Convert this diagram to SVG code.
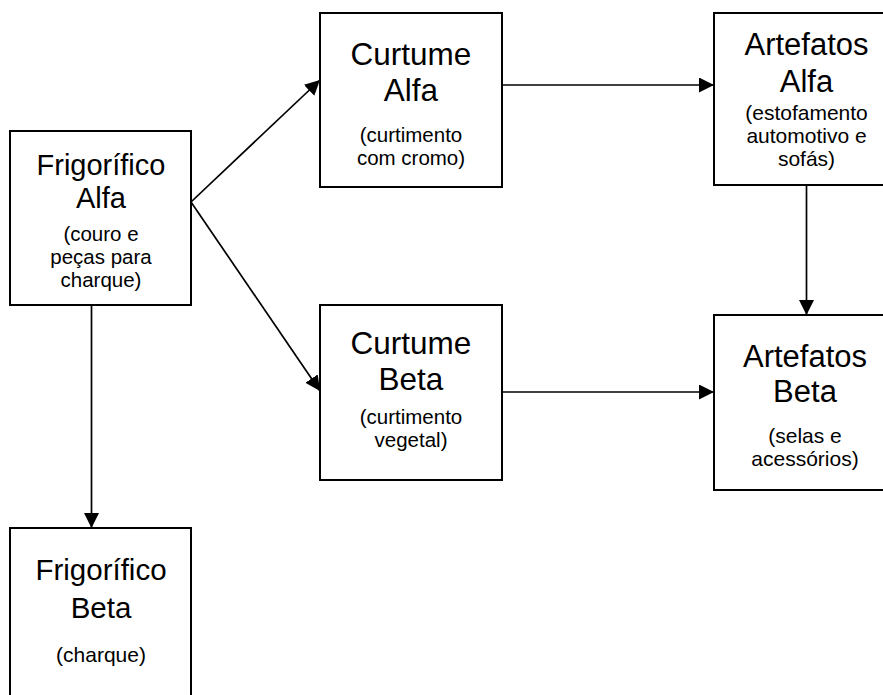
<svg xmlns="http://www.w3.org/2000/svg" width="883" height="695" viewBox="0 0 883 695">
<style>
.box{fill:#fff;stroke:#000;stroke-width:2}
.t{font-family:"Liberation Sans",Arial,sans-serif;fill:#000;text-anchor:middle}
.c{stroke:#000;stroke-width:1.7;fill:none;marker-end:url(#ah)}
</style>
<defs>
<marker id="ah" markerUnits="userSpaceOnUse" markerWidth="16" markerHeight="16" refX="15" refY="7.5" orient="auto">
<path d="M0,0 L15,7.5 L0,15 z" fill="#000"/>
</marker>
</defs>
<rect width="883" height="695" fill="#fff"/>
<g id="connectors">
<line class="c" x1="191" y1="202" x2="320" y2="80"/>
<line class="c" x1="191" y1="202" x2="320" y2="391"/>
<line class="c" x1="502" y1="85" x2="714" y2="85"/>
<line class="c" x1="502" y1="392" x2="714" y2="392"/>
<line class="c" x1="806.5" y1="185" x2="806.5" y2="315"/>
<line class="c" x1="91.5" y1="305" x2="91.5" y2="528"/>
</g>
<g id="frigorifico-alfa">
<rect class="box" x="10" y="131" width="181" height="174"/>
<text class="t" font-size="29" x="101" y="175">Frigorífico</text>
<text class="t" font-size="29" x="101" y="208">Alfa</text>
<text class="t" font-size="20.5" x="101" y="241">(couro e</text>
<text class="t" font-size="20.5" x="101" y="264">peças para</text>
<text class="t" font-size="20.5" x="101" y="287">charque)</text>
</g>
<g id="curtume-alfa">
<rect class="box" x="320" y="13" width="182" height="174"/>
<text class="t" font-size="31.5" x="411" y="65">Curtume</text>
<text class="t" font-size="31.5" x="411" y="101">Alfa</text>
<text class="t" font-size="20.5" x="411" y="142">(curtimento</text>
<text class="t" font-size="20.5" x="411" y="165">com cromo)</text>
</g>
<g id="artefatos-alfa">
<rect class="box" x="714" y="13" width="182" height="172"/>
<text class="t" font-size="31" x="806.5" y="55">Artefatos</text>
<text class="t" font-size="31" x="806.5" y="92">Alfa</text>
<text class="t" font-size="21" x="806.5" y="120">(estofamento</text>
<text class="t" font-size="21" x="806.5" y="143">automotivo e</text>
<text class="t" font-size="21" x="806.5" y="166">sofás)</text>
</g>
<g id="curtume-beta">
<rect class="box" x="320" y="305" width="182" height="175"/>
<text class="t" font-size="31.5" x="411" y="354">Curtume</text>
<text class="t" font-size="31.5" x="411" y="390">Beta</text>
<text class="t" font-size="20.5" x="411" y="424">(curtimento</text>
<text class="t" font-size="20.5" x="411" y="447">vegetal)</text>
</g>
<g id="artefatos-beta">
<rect class="box" x="714" y="315" width="182" height="175"/>
<text class="t" font-size="31" x="805" y="367">Artefatos</text>
<text class="t" font-size="31" x="805" y="402">Beta</text>
<text class="t" font-size="21" x="805" y="443">(selas e</text>
<text class="t" font-size="21" x="805" y="466">acessórios)</text>
</g>
<g id="frigorifico-beta">
<rect class="box" x="10" y="528" width="181" height="180"/>
<text class="t" font-size="29.5" x="101" y="580">Frigorífico</text>
<text class="t" font-size="29.5" x="101" y="618">Beta</text>
<text class="t" font-size="21" x="101" y="662">(charque)</text>
</g>
</svg>
